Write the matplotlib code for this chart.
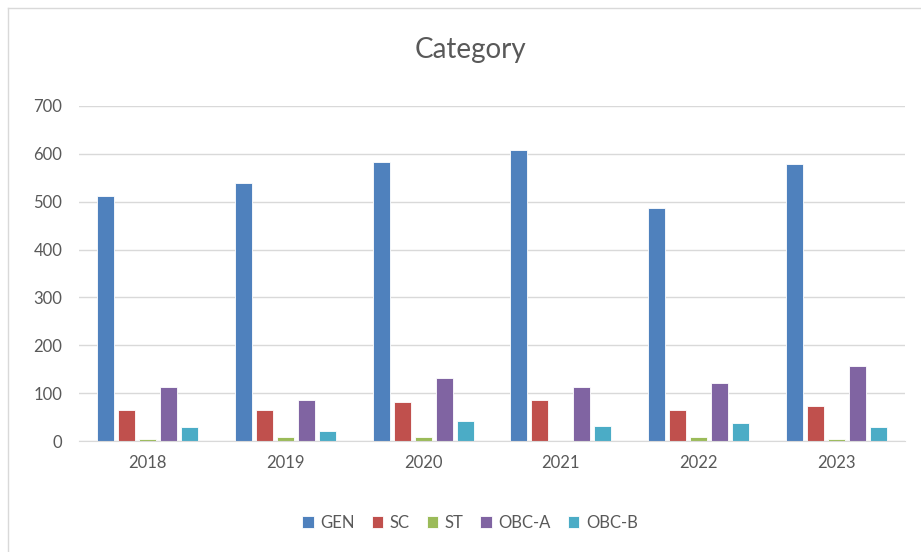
import matplotlib.pyplot as plt
import numpy as np

years = ['2018', '2019', '2020', '2021', '2022', '2023']
series = ['GEN', 'SC', 'ST', 'OBC-A', 'OBC-B']
gen = [512, 540, 582, 609, 486, 579]
sc = [65, 65, 81, 85, 65, 73]
st = [5, 8, 8, 0, 8, 4]
obc_a = [113, 85, 132, 113, 121, 157]
obc_b = [29, 21, 41, 32, 37, 29]
values = [gen, sc, st, obc_a, obc_b]
colors = ['#4F81BD', '#C0504D', '#9BBB59', '#8064A2', '#4BACC6']

plt.rcParams['font.family'] = ['Lato', 'DejaVu Sans']
text_color = '#595959'

fig = plt.figure(figsize=(9.21, 5.52), dpi=100)
ax = fig.add_axes([79 / 921, 1 - 441 / 552, 826 / 921, 335 / 552])

x = np.arange(len(years))
step = 0.1525
width = 0.123
for i, (name, vals) in enumerate(zip(series, values)):
    ax.bar(x + (i - 2) * step, vals, width, color=colors[i], label=name,
           edgecolor='white', linewidth=0.6)

ax.set_xlim(-0.5, len(years) - 0.5)
ax.set_ylim(0, 700)
ax.set_yticks(range(0, 701, 100))
ax.set_xticks(x)
ax.set_xticklabels(years)
ax.yaxis.grid(True, color='#D9D9D9', linewidth=1)
ax.set_axisbelow(True)
for side in ['top', 'right', 'left']:
    ax.spines[side].set_visible(False)
ax.spines['bottom'].set_color('#D9D9D9')
ax.tick_params(axis='both', length=0, colors=text_color, labelsize=12)
ax.tick_params(axis='x', pad=10)
ax.tick_params(axis='y', pad=12)

fig.text(470 / 921, 1 - 50 / 552, 'Category', ha='center', va='center',
         fontsize=20, color=text_color)

fig.legend(loc='center', bbox_to_anchor=(470 / 921, 1 - 523 / 552), ncol=5,
           frameon=False, fontsize=12, handlelength=0.7, handleheight=0.7,
           handletextpad=0.4, columnspacing=1.0, labelcolor=text_color)

# chart frame
fig.add_artist(plt.Line2D([8 / 921, 1], [1 - 8 / 552, 1 - 8 / 552],
                          color='#D9D9D9', linewidth=1))
fig.add_artist(plt.Line2D([8 / 921, 8 / 921], [0, 1 - 8 / 552],
                          color='#D9D9D9', linewidth=1))

fig.savefig('out.png', dpi=100)
